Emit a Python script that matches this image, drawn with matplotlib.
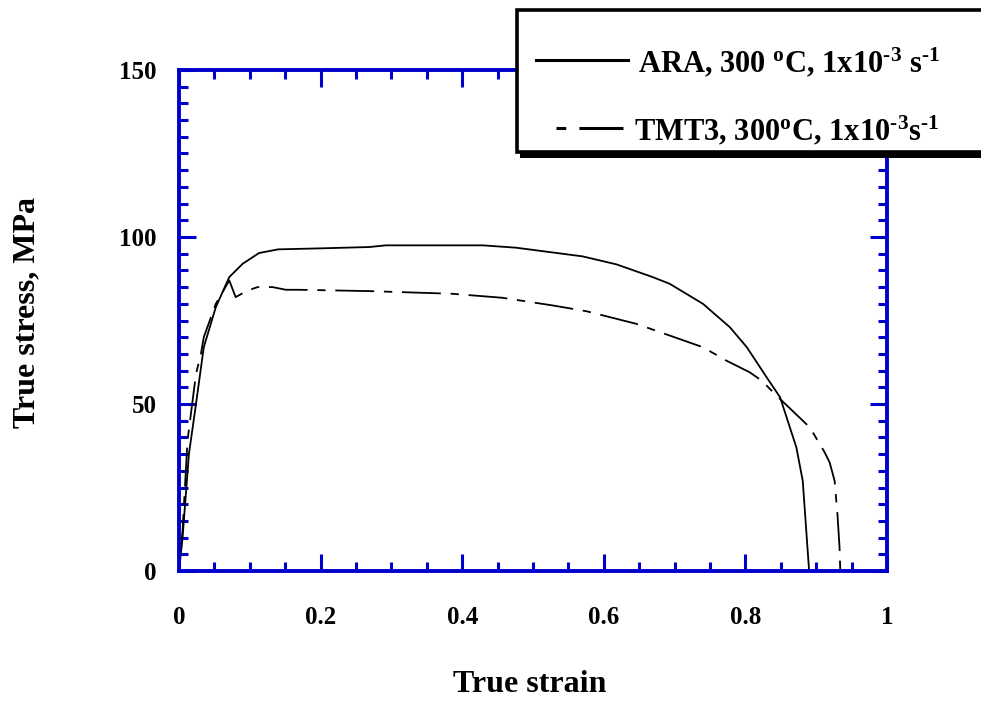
import matplotlib
matplotlib.use('Agg')
import matplotlib.pyplot as plt
from matplotlib.patches import Rectangle
from matplotlib.lines import Line2D
from matplotlib.ticker import MultipleLocator

plt.rcParams['font.family'] = 'Liberation Serif'
plt.rcParams['font.weight'] = 'bold'
plt.rcParams['mathtext.fontset'] = 'custom'
plt.rcParams['mathtext.rm'] = 'Liberation Serif:bold'
plt.rcParams['mathtext.it'] = 'Liberation Serif:bold:italic'
plt.rcParams['mathtext.bf'] = 'Liberation Serif:bold'
plt.rcParams['lines.scale_dashes'] = False

# data (true strain, true stress in MPa)
ara_strain = [0.0, 0.005, 0.014, 0.024, 0.035, 0.052, 0.071, 0.09, 0.113, 0.14,
              0.2, 0.269, 0.292, 0.429, 0.476, 0.523, 0.57, 0.618, 0.669, 0.693,
              0.74, 0.778, 0.802, 0.83, 0.849, 0.872, 0.881, 0.885, 0.89]
ara_stress = [0, 10, 35, 50, 67, 79, 88, 92, 95.2, 96.3,
              96.6, 97, 97.5, 97.5, 96.8, 95.5, 94.2, 91.8, 88, 86,
              80, 73, 67, 58, 52, 37, 27, 15, 0]

tmt3_strain = [0.0, 0.005, 0.012, 0.024, 0.031, 0.035, 0.052, 0.071, 0.08, 0.097,
               0.111, 0.132, 0.151, 0.17, 0.269, 0.386, 0.457, 0.528, 0.575, 0.646,
               0.693, 0.74, 0.773, 0.806, 0.823, 0.844, 0.891, 0.912, 0.919, 0.926,
               0.93, 0.933, 0.934]
tmt3_stress = [0, 12, 39, 59, 65, 70, 80, 87, 82, 84,
               85, 85, 84.2, 84.2, 83.8, 83, 81.8, 79.5, 77.8, 74,
               70.5, 67, 63, 59.5, 57, 52.5, 43, 35.5, 32.5, 27,
               17, 7, 0]

x_ticks = [0, 0.2, 0.4, 0.6, 0.8, 1]
x_ticklabels = ['0', '0.2', '0.4', '0.6', '0.8', '1']
y_ticks = [0, 50, 100, 150]
y_ticklabels = ['0', '50', '100', '150']

labels = [r'ARA, 300 $^{\mathrm{o}}$C, 1x10$^{\text{-3}}$ s$^{\text{-1}}$',
          r'TMT3, 300$^{\mathrm{o}}$C, 1x10$^{\text{-3}}$s$^{\text{-1}}$']

blue = '#0000CC'
W, H = 981, 702

fig = plt.figure(figsize=(W / 100, H / 100), dpi=100)
ax = fig.add_axes([179 / W, 1 - 571 / H, 708 / W, 501 / H])

ax.plot(ara_strain, ara_stress, color='black', lw=1.3)
ax.plot(tmt3_strain, tmt3_stress, color='black', lw=1.3, dashes=(6, 7, 28, 7))

ax.set_xlim(0, 1)
ax.set_ylim(0, 150)
ax.set_xticks(x_ticks)
ax.set_xticklabels(x_ticklabels)
ax.set_yticks(y_ticks)
ax.set_yticklabels(y_ticklabels)
ax.xaxis.set_minor_locator(MultipleLocator(0.05))
ax.yaxis.set_minor_locator(MultipleLocator(5))

for s in ax.spines.values():
    s.set_color(blue)
    s.set_linewidth(2.8)
ax.tick_params(which='both', direction='in', top=True, right=True,
               color=blue, width=2.2, labelsize=18)
ax.tick_params(which='major', length=12.5)
ax.tick_params(which='minor', length=6.5)
ax.tick_params(axis='x', pad=25)
ax.tick_params(axis='y', pad=16)

fig.text(530 / W, 1 - 685 / H, 'True strain', fontsize=23, ha='center', va='center')
fig.text(27 / W, 1 - 313 / H, 'True stress, MPa', fontsize=23, ha='center',
         va='center', rotation=90)

# legend box with drop shadow
fig.patches.append(Rectangle((520 / W, 1 - 158 / H), 480 / W, 145 / H,
                             transform=fig.transFigure, facecolor='black',
                             edgecolor='none'))
fig.patches.append(Rectangle((516.5 / W, 1 - 151.5 / H), 480 / W, 142 / H,
                             transform=fig.transFigure, facecolor='white',
                             edgecolor='black', linewidth=2.6))
fig.lines.append(Line2D([536 / W, 628 / W], [1 - 60 / H, 1 - 60 / H],
                        transform=fig.transFigure, color='black', lw=2.2))
fig.lines.append(Line2D([556 / W, 623 / W], [1 - 128 / H, 1 - 128 / H],
                        transform=fig.transFigure, color='black', lw=2.2,
                        dashes=(7, 9.5, 32, 10)))
fig.text(638 / W, 1 - 72 / H, labels[0], fontsize=22, ha='left', va='baseline')
fig.text(634 / W, 1 - 140 / H, labels[1], fontsize=22, ha='left', va='baseline')

fig.savefig('out.png', dpi=100)
